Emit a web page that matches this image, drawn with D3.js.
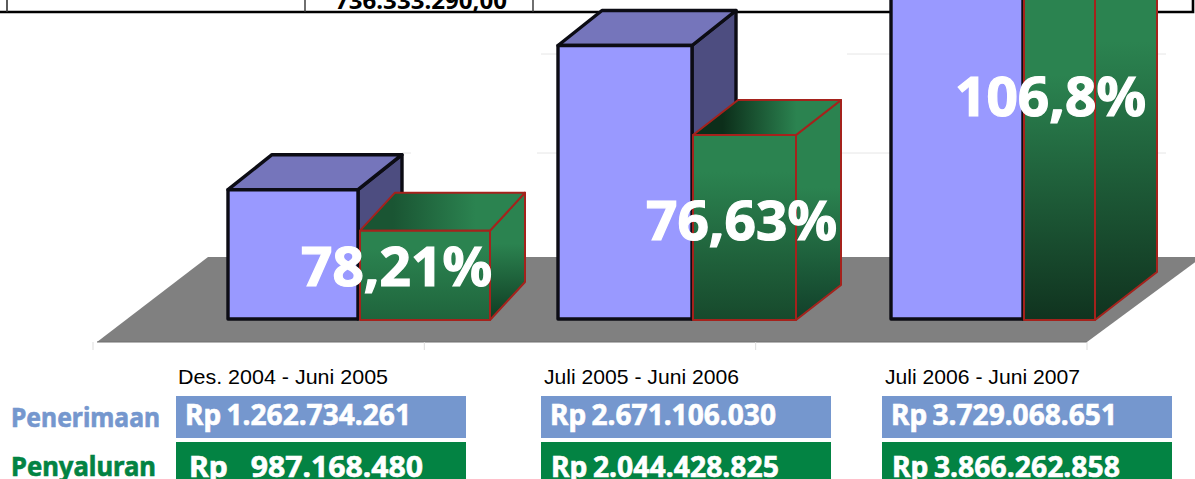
<!DOCTYPE html>
<html><head><meta charset="utf-8">
<script src="https://cdn.jsdelivr.net/npm/d3@7"></script>
<style>html,body{margin:0;padding:0;background:#fff;overflow:hidden}svg{display:block}</style>
</head><body><svg id="c" width="1195" height="479"></svg>
<script>
const categories = ["Des. 2004 - Juni 2005", "Juli 2005 - Juni 2006", "Juli 2006 - Juni 2007"];
const penerimaan = [1262734261, 2671106030, 3729068651];
const penyaluran = [987168480, 2044428825, 3866262858];
const penerimaanLabels = ["Rp 1.262.734.261", "Rp 2.671.106.030", "Rp 3.729.068.651"];
const penyaluranLabels = ["Rp    987.168.480", "Rp 2.044.428.825", "Rp 3.866.262.858"];
const rasio = ["78,21%", "76,63%", "106,8%"];
const tableTotal = "736.333.290,00";

const W = 1195, H = 479, base = 319;
const svg = d3.select("#c");
const defs = svg.append("defs");

// scales
const yBlue = d3.scaleLinear().domain([0, 1e9]).range([0, 102.4]);
const yGreen = d3.scaleLinear().domain([0, 1e9]).range([0, 90.5]);
const blueX = d3.scaleOrdinal(categories, [228, 558, 891]);
const blueW = d3.scaleOrdinal(categories, [130, 134, 132]);
const greenX = d3.scaleOrdinal(categories, [360, 693, 1024]);
const greenW = d3.scaleOrdinal(categories, [130, 103, 71]);
const greenDx = d3.scaleOrdinal(categories, [35, 45, 62]);
const greenDy = d3.scaleOrdinal(categories, [38, 35, 48]);
const greenDark = d3.scaleOrdinal(categories, ["#1f643c", "#17492c", "#10331f"]);
const sideDark = d3.scaleOrdinal(categories, ["#0f3b22", "#12402a", "#10331f"]);
const topDark = d3.scaleOrdinal(categories, ["#1a5533", "#0c2e1a", "#10331f"]);
const panelX = d3.scaleOrdinal(categories, [176, 541, 882]);
const dateX = d3.scaleOrdinal(categories, [178, 544, 885]);
const pctX = d3.scaleOrdinal(categories, [301, 646, 955]);
const pctY = d3.scaleOrdinal(categories, [285, 239, 115]);
const boundary = d3.scaleLinear().domain([0, 3]).range([93, 1087]);

// table remnant
const tbl = svg.append("g");
tbl.append("path").attr("d", "M0,12H1193V0").attr("fill", "none").attr("stroke", "#000").attr("stroke-width", 2.6);
[7, 305, 533].forEach(x => tbl.append("line").attr("x1", x).attr("x2", x).attr("y1", 0).attr("y2", 12).attr("stroke", "#333").attr("stroke-width", x === 7 ? 1.6 : 1.4));
const clip = defs.append("clipPath").attr("id", "tc");
clip.append("rect").attr("x", 0).attr("y", 0).attr("width", W).attr("height", 11);
tbl.append("text").attr("x", 335).attr("y", 8.5).attr("clip-path", "url(#tc)")
  .attr("font-family", "Noto Sans").attr("font-weight", "bold").attr("font-size", 24)
  .attr("textLength", 172).attr("lengthAdjust", "spacingAndGlyphs").attr("fill", "#000").text(tableTotal);
tbl.append("text").attr("x", 26).attr("y", 0).attr("font-family", "DejaVu Sans").attr("font-size", 20)
  .attr("fill", "#999").attr("textLength", 170).text("Sumber Dana");

// faint gridlines
const grid = [[54, 541, 557], [54, 722, 738], [54, 847, 891], [54, 1157, 1166], [153, 402, 411], [153, 537, 557], [153, 736, 890], [153, 1157, 1166]];
svg.append("g").selectAll("line").data(grid).join("line")
  .attr("x1", d => d[1]).attr("x2", d => d[2]).attr("y1", d => d[0]).attr("y2", d => d[0])
  .attr("stroke", "#e6e6e6").attr("stroke-width", 1);

// floor
svg.append("path").attr("d", "M97,342L208,257H1202L1087,342Z").attr("fill", "#808080");
svg.append("line").attr("x1", 97).attr("x2", 1087).attr("y1", 342).attr("y2", 342).attr("stroke", "#6e6e6e").attr("stroke-width", 1);
svg.append("g").selectAll("line").data(boundary.ticks(3)).join("line")
  .attr("x1", d => boundary(d)).attr("x2", d => boundary(d)).attr("y1", 342).attr("y2", 350)
  .attr("stroke", "#dddddd").attr("stroke-width", 1);

// gradients
categories.forEach((c, i) => {
  const mk = (id, dark, x2, y2, offs) => {
    const g = defs.append("linearGradient").attr("id", id).attr("x1", 0).attr("y1", 0).attr("x2", x2).attr("y2", y2);
    g.append("stop").attr("offset", offs[0]).attr("stop-color", x2 ? dark : "#2b8350");
    g.append("stop").attr("offset", offs[1]).attr("stop-color", x2 ? "#2b8350" : dark);
  };
  mk("gf" + i, greenDark(c), 0, 1, [i === 2 ? 0.3 : 0.2, 1]);
  mk("gs" + i, sideDark(c), 0, 1, [i === 2 ? 0.3 : 0.4, 1]);
  mk("gt" + i, topDark(c), 1, 0, [0.2, 0.7]);
});

// bars
const blueDx = 44, blueDy = 35;
const blueStroke = {stroke: "#0c0c14", sw: 3.4};
categories.forEach((c, i) => {
  const g = svg.append("g");
  const x0 = blueX(c), w = blueW(c), top = base - yBlue(penerimaan[i]);
  const poly = (pts, fill, stroke, sw) => g.append("polygon").attr("points", pts.map(p => p.join(",")).join(" "))
    .attr("fill", fill).attr("stroke", stroke).attr("stroke-width", sw).attr("stroke-linejoin", "round");
  poly([[x0 + w, top], [x0 + w + blueDx, top - blueDy], [x0 + w + blueDx, base - blueDy], [x0 + w, base]], "#4d4d80", blueStroke.stroke, blueStroke.sw);
  poly([[x0, top], [x0 + blueDx, top - blueDy], [x0 + w + blueDx, top - blueDy], [x0 + w, top]], "#7575bb", blueStroke.stroke, blueStroke.sw);
  poly([[x0, top], [x0 + w, top], [x0 + w, base], [x0, base]], "#9999ff", blueStroke.stroke, blueStroke.sw);

  const gx = greenX(c), gw = greenW(c), gb = base + 1, gt = gb - yGreen(penyaluran[i]), dx = greenDx(c), dy = greenDy(c);
  const red = "#a5221c";
  poly([[gx + gw, gt], [gx + gw + dx, gt - dy], [gx + gw + dx, gb - dy], [gx + gw, gb]], `url(#gs${i})`, red, 2);
  poly([[gx, gt], [gx + dx, gt - dy], [gx + gw + dx, gt - dy], [gx + gw, gt]], `url(#gt${i})`, red, 2);
  poly([[gx, gt], [gx + gw, gt], [gx + gw, gb], [gx, gb]], `url(#gf${i})`, red, 2);
});

// percent labels
svg.append("g").selectAll("text").data(categories).join("text")
  .attr("x", d => pctX(d)).attr("y", d => pctY(d) + 0.5)
  .attr("font-family", "Noto Sans").attr("font-weight", "bold").attr("font-size", 53)
  .attr("textLength", 191).attr("lengthAdjust", "spacingAndGlyphs").attr("fill", "#fff")
  .attr("stroke", "#fff").attr("stroke-width", 1.2)
  .text((d, i) => rasio[i]);

// date labels
svg.append("g").selectAll("text").data(categories).join("text")
  .attr("x", d => dateX(d)).attr("y", 384)
  .attr("font-family", "Liberation Sans").attr("font-size", 21).attr("textLength", (d, i) => i === 0 ? 210 : 195)
  .attr("lengthAdjust", "spacingAndGlyphs").attr("fill", "#000").text(d => d);

// panels
svg.append("g").selectAll("rect").data(categories).join("rect")
  .attr("x", d => panelX(d)).attr("y", 396).attr("width", 290).attr("height", 42).attr("fill", "#7597ce");
svg.append("g").selectAll("rect").data(categories).join("rect")
  .attr("x", d => panelX(d)).attr("y", 442).attr("width", 290).attr("height", 37).attr("fill", "#038343");

const valFont = s => s.attr("font-family", "Noto Sans").attr("font-weight", "bold").attr("font-size", 28)
  .attr("lengthAdjust", "spacingAndGlyphs").attr("fill", "#fff").attr("stroke", "#fff").attr("stroke-width", 0.6)
  .style("white-space", "pre").style("word-spacing", "-2px");
svg.append("g").selectAll("text").data(penerimaanLabels).join("text").call(valFont)
  .attr("x", (d, i) => panelX(categories[i]) + 9).attr("y", 424.5).attr("textLength", 226).text(d => d);
svg.append("g").selectAll("text").data(penyaluranLabels).join("text").call(valFont)
  .attr("x", (d, i) => panelX(categories[i]) + (i === 0 ? 13 : 10)).attr("y", 476.5).attr("textLength", (d, i) => i === 0 ? 234 : 228).text(d => d);

// row labels
const rows = [["Penerimaan", "#7597ce", 427, 149], ["Penyaluran", "#038343", 476, 145]];
svg.append("g").selectAll("text").data(rows).join("text")
  .attr("x", 11).attr("y", d => d[2]).attr("fill", d => d[1]).attr("stroke", d => d[1]).attr("stroke-width", 0.6)
  .attr("font-family", "Noto Sans").attr("font-weight", "bold").attr("font-size", 26)
  .attr("textLength", d => d[3]).attr("lengthAdjust", "spacingAndGlyphs").text(d => d[0]);
</script></body></html>
